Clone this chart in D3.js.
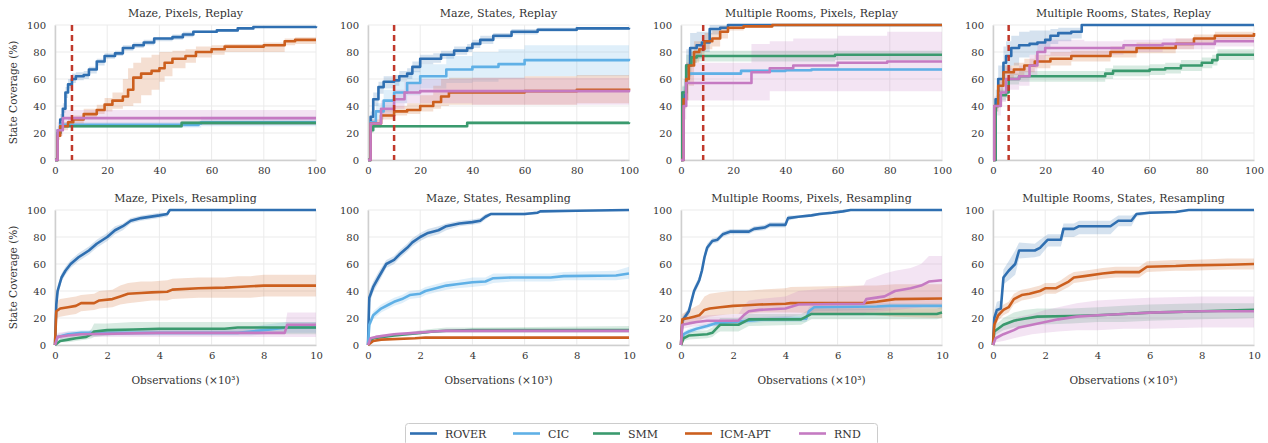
<!DOCTYPE html>
<html>
<head>
<meta charset="utf-8">
<script src="https://cdn.jsdelivr.net/npm/d3@7"></script>
<style>
  body { margin: 0; background: #fff; }
  svg text { font-family: "DejaVu Serif", serif; fill: #333; }
</style>
</head>
<body>
<div id="chartdiv"></div>
<script>
/* --- Data --- */

// methods, in legend order
let methods = ["ROVER", "CIC", "SMM", "ICM-APT", "RND"]
let methodColors = ["#2f6fb1", "#5fb0e6", "#3a9a6e", "#cc5f1e", "#c57ac2"]

let panelTitles = [
  "Maze, Pixels, Replay", "Maze, States, Replay",
  "Multiple Rooms, Pixels, Replay", "Multiple Rooms, States, Replay",
  "Maze, Pixels, Resampling", "Maze, States, Resampling",
  "Multiple Rooms, Pixels, Resampling", "Multiple Rooms, States, Resampling"
]
let yTicks = [0, 20, 40, 60, 80, 100]
let replayTicks = [0, 20, 40, 60, 80, 100]
let resampleTicks = [0, 2, 4, 6, 8, 10]
// red dashed markers in the replay row (x position)
let dashedX = [6.5, 10, 8.5, 6]

// each row: [x, mean, lower, upper]
let mazePixelsReplay = {
  "ROVER": [[0,0,0,0],[1,20,17,23],[2,30,27,34],[3,38,35,42],[4,50,46,54],[5,56,53,60],[6.5,60,57,64],[8,62,59,65],[11,63,60,66],[13,67,64,69],[16,73,70,75],[19,77,75,79],[23,79,77,81],[26,83,81,85],[30,85,83,87],[34,87,85,89],[38,90,88,91],[45,91,89,93],[49,93,91,95],[53,95,94,96],[62,96,95,97],[70,97.5,97,98],[76,98.5,98,99],[100,99,98.5,99.5]],
  "CIC": [[0,0,0,0],[1,22,19,25],[2,26,24,28],[55,27,24,29],[56,28,25,32],[100,28,25,33]],
  "SMM": [[0,0,0,0],[1,20,18,22],[2,25,24,26],[48,25,24,26],[48.5,27.5,26,29],[100,27.5,26,29]],
  "ICM-APT": [[0,0,0,0],[1,18,15,22],[2,25,22,28],[5,28,25,31],[7,30,27,33],[11,34,31,38],[16,37,34,41],[19,41,36,46],[22,44,38,50],[26,47,40,60],[28,52,40,68],[30,61,42,72],[33,64,48,76],[37,66,52,78],[40,68,58,80],[42,72,62,80],[45,75,68,81],[50,77,72,82],[54,80,76,84],[60,82,78,85],[65,84,80,86],[80,85,80,87],[88,88,85,90],[92,89,86,91],[100,89,87,92]],
  "RND": [[0,0,0,0],[1,22,18,28],[3,31,26,37],[100,31,25,37]]
}
let mazeStatesReplay = {
  "ROVER": [[0,0,0,0],[1,32,28,36],[2,45,40,50],[4,54,49,58],[6,58,53,62],[10,59,55,63],[12,62,58,66],[15,64,60,68],[17,69,65,73],[20,75,71,78],[25,75,72,79],[28,78,75,81],[33,81,78,84],[38,83,80,86],[40,86,83,89],[43,89,86,92],[48,92,90,94],[55,95,93,97],[65,96.5,95,98],[80,97.5,96.5,98.5],[100,98,97,99]],
  "CIC": [[0,0,0,0],[1,28,24,32],[3,36,30,42],[6,44,36,52],[10,50,42,58],[15,57,48,66],[20,62,53,71],[30,67,57,77],[40,69,58,80],[50,71,60,82],[60,74,62,85],[100,75,64,86]],
  "SMM": [[0,0,0,0],[1,22,20,24],[2,25,24,26],[37,25,24,26],[38,27.5,26.5,28.5],[100,28,27,29]],
  "ICM-APT": [[0,0,0,0],[1,27,24,30],[5,33,30,37],[10,36,33,40],[15,37,34,42],[20,40,36,48],[25,43,38,55],[28,47,40,60],[31,50,41,61],[40,50,41,61],[60,51,41,62],[80,52,42,63],[100,53,42,64]],
  "RND": [[0,0,0,0],[1,27,24,30],[5,38,33,44],[10,45,38,52],[14,50,42,58],[20,51,42,60],[40,51,41,61],[100,52,41,62]]
}
let roomsPixelsReplay = {
  "ROVER": [[0,0,0,0],[1,50,40,60],[2,70,58,82],[3.5,83,72,94],[6,85,75,95],[8,87,80,95],[11,97,93,100],[15,98,96,100],[18,100,100,100],[100,100,100,100]],
  "CIC": [[0,0,0,0],[0.5,50,46,54],[2,62,60,65],[3,64,63,65],[22,64,63,65],[23,66,65,67],[40,66.5,65.5,67.5],[50,67,66,68],[100,67,66,68]],
  "SMM": [[0,0,0,0],[0.5,50,45,55],[2,70,62,78],[4,76,72,81],[6,77,73,81],[58,77,73,81],[59,78,74,81],[100,78,74,81]],
  "ICM-APT": [[0,0,0,0],[1,45,38,52],[2,60,44,72],[3,70,55,80],[5,80,72,88],[7,82,78,88],[9,88,82,94],[12,90,84,96],[15,95,90,99],[18,98,96,100],[24,99,98,100],[35,100,100,100],[100,100,100,100]],
  "RND": [[0,0,0,0],[1,40,30,50],[2,57,44,72],[27,65,44,86],[34,68,51,88],[43,70,51,90],[60,72,51,92],[79,73,51,95],[100,73,51,95]]
}
let roomsStatesReplay = {
  "ROVER": [[0,0,0,0],[1,45,38,52],[2,60,50,70],[4,72,60,84],[5,77,65,88],[7,83,70,92],[10,85,76,95],[14,86,78,96],[17,87,80,96],[20,89,82,96],[22,92,86,97],[25,94,88,98],[30,95,90,98],[34,100,100,100],[100,100,100,100]],
  "SMM": [[0,0,0,0],[1,40,36,44],[2,48,44,52],[5,50,46,54],[6,60,56,64],[10,62,58,66],[40,62,58,66],[43,64,60,68],[46,66,62,70],[60,67,63,71],[66,68,64,72],[72,70,66,74],[80,72,68,76],[84,74,70,78],[86,78,74,82],[100,78,74,82]],
  "ICM-APT": [[0,0,0,0],[0.5,40,36,44],[2,55,50,60],[4,65,60,70],[8,67,63,72],[12,70,65,75],[16,73,68,78],[22,75,70,80],[30,77,73,81],[45,80,76,84],[55,83,79,87],[70,86,82,90],[77,90,86,93],[85,92,89,95],[100,94,91,96]],
  "RND": [[0,0,0,0],[0.5,40,33,47],[3,50,43,58],[5,60,52,68],[10,62,55,70],[14,70,62,78],[17,80,72,87],[20,83,77,89],[35,83,78,88],[50,85,80,89],[65,86,82,90],[85,88,84,91],[100,88,84,91]]
}
let mazePixelsResampling = {
  "ROVER": [[0,0,0,0],[0.05,30,26,34],[0.1,40,36,44],[0.25,50,47,53],[0.4,55,52,58],[0.6,60,57,63],[0.9,65,62,68],[1.3,70,67,73],[1.6,75,72,78],[2,80,77,83],[2.3,85,82,88],[2.6,88,85,90],[2.9,92,90,94],[3.3,94,92,96],[4,96,94,98],[4.3,97,95,98],[4.4,100,99,100],[10,100,99.5,100]],
  "CIC": [[0,0,0,0],[0.1,6,4,8],[0.5,8,6,10],[1,9,7,11],[7,9,7,12],[7.5,10,7,13],[8,11,8,15],[8.9,13,9,17],[10,13,9,17]],
  "SMM": [[0,0,0,0],[0.2,3,2,5],[0.5,4,2,6],[0.8,5,3,7],[1.2,6,4,8],[1.4,8,5,12],[1.5,10,6,16],[2,11,7,16],[3,11.5,8,17],[4,12,8,17],[6.5,12,8,17],[7,13,8,17],[10,13,8,17]],
  "ICM-APT": [[0,0,0,0],[0.05,25,20,32],[0.2,27,21,34],[0.5,28,22,35],[0.8,29,23,36],[1,31,25,37],[1.5,31,26,38],[1.7,33,27,40],[2.2,34,28,41],[2.5,36,30,44],[2.8,38,31,46],[3.3,38.5,32,47],[3.7,39,33,47],[4.3,39.5,33,48],[4.5,41,34,49],[5.5,42,35,50],[6.5,42.5,35,50],[7,43,35,51],[7.5,43.5,35,51],[8,44,36,52],[10,44,36,52]],
  "RND": [[0,0,0,0],[0.1,6,4,9],[0.5,7,5,10],[1,8,6,10],[4,9,6,12],[8.8,9,6,12],[8.9,15,6,24],[10,15,6,24]]
}
let mazeStatesResampling = {
  "ROVER": [[0,0,0,0],[0.05,35,30,40],[0.2,43,39,47],[0.4,50,46,54],[0.7,60,57,63],[1,63,60,66],[1.2,67,64,70],[1.5,72,69,75],[1.7,76,73,79],[2,80,77,83],[2.3,83,80,86],[2.7,85,82,88],[3,88,85,90],[3.5,90,88,92],[4,91,89,93],[4.3,92,90,94],[4.5,95,93,97],[4.7,97,96,98],[6,97,96,98],[6.5,98,97,99],[6.6,99,98.5,99.5],[8,99.5,99,100],[10,100,99.5,100]],
  "CIC": [[0,0,0,0],[0.05,15,12,18],[0.2,22,19,25],[0.5,27,24,30],[0.8,30,27,33],[1,32,29,35],[1.3,34,31,37],[1.6,37,34,40],[2,38,35,41],[2.2,40,37,43],[2.6,42,39,45],[3,44,41,47],[3.4,45,42,48],[4,46.5,43,50],[4.5,47,44,50],[4.8,49.5,46,53],[5.5,50,47,53],[7,50,47,53],[7.5,51,48,54],[9.5,51.5,48,55],[10,53,49,58]],
  "SMM": [[0,0,0,0],[0.2,5,4,6],[1,7,6,8],[1.5,8,7,9],[2,9,8,11],[2.5,10,9,12],[3,10.5,9,13],[4,11,9,13],[10,11,9,14]],
  "ICM-APT": [[0,0,0,0],[0.2,3,2.5,3.5],[0.5,4,3.5,4.5],[1.8,5,4.5,5.5],[2.2,5.5,5,6],[10,5.5,5,6]],
  "RND": [[0,0,0,0],[0.1,5,4,6],[0.3,6,5,7],[1,8,7,9],[1.8,9,8,10],[2.5,10,9,11],[3,10.5,9.5,11.5],[10,10.5,9.5,11.5]]
}
let roomsPixelsResampling = {
  "ROVER": [[0,0,0,0],[0.05,18,15,21],[0.3,25,22,28],[0.5,40,37,43],[0.7,48,45,51],[0.8,55,52,58],[0.9,65,62,68],[1,72,69,75],[1.2,77,75,79],[1.4,78,76,80],[1.6,82,80,84],[1.9,84,82,86],[2.6,84,82,86],[2.8,86,84,88],[3.2,87,85,89],[3.4,89,87,91],[4,89,87,91],[4.1,94,92,96],[4.5,95,94,96],[5,96,95,97],[5.3,97,96,98],[5.8,98,97,99],[6.2,99,98,100],[6.5,100,99.5,100],[10,100,100,100]],
  "CIC": [[0,0,0,0],[0.1,8,6,10],[0.3,10,8,12],[0.6,12,10,14],[1,14,12,16],[1.3,16,14,18],[2,17,15,19],[2.6,18,16,20],[3.2,19,17,21],[4.8,19.5,17,22],[4.9,25,22,28],[5.1,28,25,30],[7.5,28.5,26,31],[8,29,27,31],[10,29,27,31]],
  "SMM": [[0,0,0,0],[0.1,5,3,7],[0.3,7,4,10],[1,8,5,11],[1.2,9,6,13],[1.4,13,9,17],[1.5,15,10,20],[2.2,15,10,20],[2.4,17,12,22],[2.6,19,14,23],[4.6,19,15,23],[4.8,21,17,25],[5,23,19,27],[9.8,23,19,27],[10,24,20,28]],
  "ICM-APT": [[0,0,0,0],[0.05,19,15,23],[0.3,20,16,26],[0.5,21,16,28],[0.7,22,18,30],[0.9,26,20,36],[1.1,27,21,38],[1.5,28,22,39],[2,29,23,40],[2.5,29.5,23,40],[3,30,24,41],[4,30.5,24,42],[4.2,31,24,43],[7,31,23,44],[7.5,32,22,44],[8.2,34,21,45],[10,34.5,20,45]],
  "RND": [[0,0,0,0],[0.05,15,12,18],[0.3,16,13,20],[0.6,17,14,21],[1,18,14,22],[2.2,18,14,23],[2.4,22,16,29],[2.6,25,18,33],[3,26,19,34],[4,27,20,36],[4.5,30,22,40],[7,30.5,22,44],[7.1,34,24,48],[7.8,36,25,53],[8.2,40,26,55],[8.8,42,27,57],[9.2,44,28,60],[9.5,47,29,66],[10,48,30,66]]
}
let roomsStatesResampling = {
  "ROVER": [[0,0,0,0],[0.05,20,15,25],[0.15,26,20,32],[0.3,27,22,33],[0.4,50,45,56],[0.6,55,48,62],[0.85,60,52,70],[1,70,64,76],[1.6,70,65,75],[1.8,72,66,78],[2.1,78,73,82],[2.6,78,73,82],[2.7,86,80,90],[3.1,86,80,90],[3.3,88,82,92],[4.5,88,82,92],[4.8,92,88,96],[5.3,92,88,96],[5.5,97,95,98],[6,98,97,99],[7,98.5,98,99],[7.5,100,99.5,100],[10,100,99.5,100]],
  "SMM": [[0,0,0,0],[0.05,10,7,14],[0.4,15,11,20],[0.8,18,13,24],[1.2,19.5,14,26],[1.7,21,15,27],[3,21.5,16,27],[4,22,17,28],[5,23,17,29],[6,24,18,30],[8,25,19,31],[10,26,20,31]],
  "ICM-APT": [[0,0,0,0],[0.05,15,11,19],[0.2,22,18,26],[0.4,26,22,30],[0.6,28,24,32],[0.8,34,30,38],[1.1,37,33,41],[1.4,38,34,42],[1.8,40,36,44],[2,42,38,46],[2.4,42,38,46],[2.6,44,40,48],[2.9,47,43,52],[3.1,50,46,54],[3.5,51,47,55],[4.2,53,49,57],[4.7,54,50,58],[5.6,54,50,58],[5.9,58,54,62],[7,58.5,55,63],[7.5,59,55,63],[9,59.5,56,64],[10,60,56,64]],
  "RND": [[0,0,0,0],[0.1,5,2,10],[0.4,8,3,15],[0.8,11,5,19],[1,13,6,21],[1.5,15,8,23],[2,17,9,26],[2.5,19,10,28],[3.2,21,11,31],[4,22,11,33],[5,23,12,34],[6,24,12,35],[8,25,13,36],[10,25,13,36]]
}

/* -------------------- */

let panelData = [
  mazePixelsReplay, mazeStatesReplay, roomsPixelsReplay, roomsStatesReplay,
  mazePixelsResampling, mazeStatesResampling, roomsPixelsResampling, roomsStatesResampling
]

let width = 1268
let height = 443
let panelLefts = [55, 368, 681, 993]
let panelWidth = 261
let rowTops = [25, 210]
let panelHeight = 135
let serif = "'DejaVu Serif', serif"

function drawChart(){
  let svg = d3.select("#chartdiv")
    .append("svg")
    .attr("width", width)
    .attr("height", height)
    .style("font-family", serif)

  panelData.forEach((data, i) => {
    let row = Math.floor(i / 4)
    let col = i % 4
    let replay = row === 0
    let xTicks = replay ? replayTicks : resampleTicks
    let xscale = d3.scaleLinear()
      .domain([0, xTicks[xTicks.length - 1]])
      .range([0, panelWidth])
    let yscale = d3.scaleLinear()
      .domain([0, 100])
      .range([panelHeight, 0])

    let g = svg.append("g")
      .attr("transform", `translate(${panelLefts[col]}, ${rowTops[row]})`)

    // grid
    g.append("g").selectAll("line.v").data(xTicks).join("line")
      .attr("x1", d => xscale(d)).attr("x2", d => xscale(d))
      .attr("y1", 0).attr("y2", panelHeight)
      .attr("stroke", "#ebebeb").attr("stroke-width", 1)
    g.append("g").selectAll("line.h").data(yTicks).join("line")
      .attr("x1", 0).attr("x2", panelWidth)
      .attr("y1", d => yscale(d)).attr("y2", d => yscale(d))
      .attr("stroke", "#ebebeb").attr("stroke-width", 1)

    // axes
    let x_axis = d3.axisBottom(xscale).tickValues(xTicks).tickSize(0).tickPadding(7)
    let xg = g.append("g")
      .attr("transform", `translate(0, ${panelHeight})`)
      .call(x_axis)
    let y_axis = d3.axisLeft(yscale).tickValues(yTicks).tickSize(0).tickPadding(9)
    let yg = g.append("g").call(y_axis)
    for (let ax of [xg, yg]) {
      ax.attr("font-family", null)
      ax.select(".domain").attr("stroke", "#cfcfcf").attr("stroke-width", 1.5)
      ax.selectAll("text")
        .style("font-family", serif)
        .style("font-size", "10px")
        .attr("fill", "#3a3a3a")
    }

    let curve = replay ? d3.curveStepAfter : d3.curveLinear
    let band = d3.area()
      .x(d => xscale(d[0]))
      .y0(d => yscale(d[2]))
      .y1(d => yscale(d[3]))
      .curve(curve)
    let line = d3.line()
      .x(d => xscale(d[0]))
      .y(d => yscale(d[1]))
      .curve(curve)

    methods.forEach((m, k) => {
      if (!data[m]) return
      g.append("path")
        .attr("d", band(data[m]))
        .attr("fill", methodColors[k])
        .attr("fill-opacity", 0.2)
    })
    methods.forEach((m, k) => {
      if (!data[m]) return
      g.append("path")
        .attr("d", line(data[m]))
        .attr("fill", "none")
        .attr("stroke", methodColors[k])
        .attr("stroke-width", 2.6)
        .attr("stroke-linejoin", "round")
    })

    if (replay) {
      g.append("line")
        .attr("x1", xscale(dashedX[col])).attr("x2", xscale(dashedX[col]))
        .attr("y1", yscale(100)).attr("y2", yscale(0))
        .attr("stroke", "#c0392b")
        .attr("stroke-width", 2.5)
        .attr("stroke-dasharray", "6,4")
    }

    // title
    g.append("text")
      .attr("x", panelWidth / 2)
      .attr("y", -8)
      .attr("text-anchor", "middle")
      .style("font-size", "11px")
      .text(panelTitles[i])

    if (col === 0) {
      g.append("text")
        .attr("transform", `translate(-38, ${panelHeight / 2}) rotate(-90)`)
        .attr("text-anchor", "middle")
        .style("font-size", "10.5px")
        .text("State Coverage (%)")
    }
    if (!replay) {
      g.append("text")
        .attr("x", panelWidth / 2)
        .attr("y", panelHeight + 39)
        .attr("text-anchor", "middle")
        .style("font-size", "10.5px")
        .text("Observations (×10³)")
    }
  })

  // legend
  let legendX = [410, 513, 593, 685, 799]
  let lg = svg.append("g")
  lg.append("rect")
    .attr("x", 405.5).attr("y", 423.5)
    .attr("width", 472).attr("height", 22)
    .attr("rx", 3)
    .attr("fill", "#fff")
    .attr("stroke", "#cccccc")
  methods.forEach((m, k) => {
    lg.append("line")
      .attr("x1", legendX[k]).attr("x2", legendX[k] + 27)
      .attr("y1", 433.5).attr("y2", 433.5)
      .attr("stroke", methodColors[k])
      .attr("stroke-width", 2.6)
    lg.append("text")
      .attr("x", legendX[k] + 35)
      .attr("y", 437.5)
      .style("font-size", "11px")
      .text(m)
  })
}
drawChart()
</script>
</body>
</html>
